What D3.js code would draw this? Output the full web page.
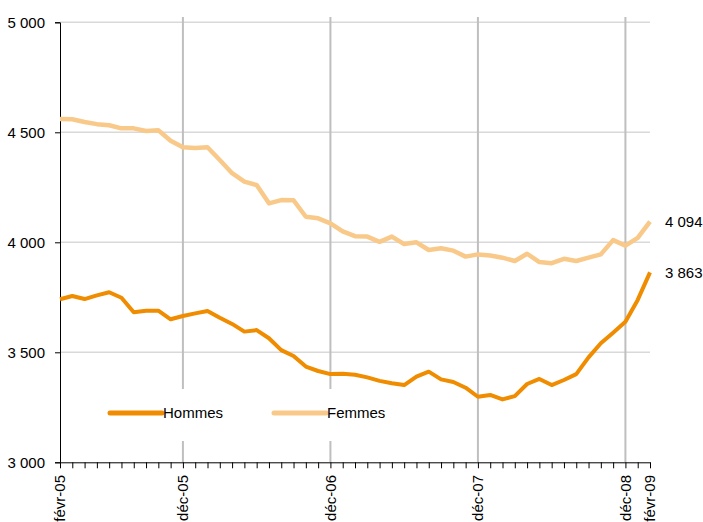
<!DOCTYPE html>
<html>
<head>
<meta charset="utf-8">
<script src="https://cdn.jsdelivr.net/npm/d3@7"></script>
<style>
  body { margin: 0; background: #fff; }
  text { font-family: "Liberation Sans", Arial, sans-serif; font-size: 15px; fill: #000; }
</style>
</head>
<body>
<div id="chart"></div>
<script>
// months from févr-05 to févr-09
var monthNames = ["janv", "févr", "mars", "avr", "mai", "juin", "juil", "août", "sept", "oct", "nov", "déc"];
var months = [];
for (var k = 0; k < 49; k++) {
  var m = (1 + k) % 12, yr = 5 + Math.floor((1 + k) / 12);
  months.push(monthNames[m] + "-" + (yr < 10 ? "0" + yr : yr));
}

var hommes = [3741, 3756, 3742, 3759, 3773, 3748, 3682, 3689, 3689, 3650,
              3665, 3677, 3688, 3657, 3629, 3594, 3601, 3564, 3510, 3483,
              3435, 3415, 3401, 3403, 3398, 3386, 3370, 3359, 3351, 3389,
              3412, 3377, 3365, 3339, 3298, 3306, 3286, 3301, 3356, 3379,
              3351, 3374, 3401, 3477, 3541, 3589, 3639, 3738, 3863];

var femmes = [4560, 4559, 4547, 4537, 4532, 4518, 4518, 4506, 4509, 4462,
              4432, 4429, 4432, 4374, 4314, 4276, 4260, 4177, 4192, 4191,
              4116, 4109, 4086, 4050, 4028, 4026, 4002, 4026, 3992, 4000,
              3965, 3973, 3962, 3935, 3945, 3940, 3930, 3915, 3948, 3910,
              3905, 3925, 3915, 3930, 3945, 4010, 3985, 4020, 4094];

var xTickLabels = ["févr-05", "déc-05", "déc-06", "déc-07", "déc-08", "févr-09"];
var xGridLabels = ["déc-05", "déc-06", "déc-07", "déc-08"];
var yTicks = [3000, 3500, 4000, 4500, 5000];

var series = [
  {name: "Hommes", values: hommes, color: "#f08c00", width: 4},
  {name: "Femmes", values: femmes, color: "#f9c98a", width: 4.5}
];

var W = 703, H = 522;
var svg = d3.select("#chart").append("svg")
  .attr("width", W).attr("height", H);

var x = d3.scalePoint().domain(months).range([60, 650]);
var y = d3.scaleLinear().domain([3000, 5000]).range([462.3, 22.3]);

var fr = d3.formatLocale({decimal: ",", thousands: " ", grouping: [3], currency: ["", " €"]});
var fmt = fr.format(",d");

// horizontal grid
svg.append("g").selectAll("line")
  .data(yTicks.filter(function(d) { return d > 3000; }))
  .enter().append("line")
    .attr("x1", 60).attr("x2", 650)
    .attr("y1", function(d) { return y(d); })
    .attr("y2", function(d) { return y(d); })
    .attr("stroke", "#d9d9d9").attr("stroke-width", 1.5);

// vertical grid
svg.append("g").selectAll("line")
  .data(xGridLabels)
  .enter().append("line")
    .attr("x1", function(d) { return x(d); })
    .attr("x2", function(d) { return x(d); })
    .attr("y1", 17).attr("y2", 462)
    .attr("stroke", "#bfbfbf").attr("stroke-width", 2);

// legend background hides the grid
svg.append("rect")
  .attr("x", 100).attr("y", 389).attr("width", 300).attr("height", 52)
  .attr("fill", "#fff");

// y axis
var yAxis = svg.append("g")
  .attr("transform", "translate(60,0)")
  .call(d3.axisLeft(y).tickValues(yTicks).tickFormat(fmt).tickSize(5).tickPadding(10));
yAxis.select(".domain").attr("stroke", "#000");
yAxis.selectAll(".tick line").attr("stroke", "#000");

// x axis
var xAxis = svg.append("g")
  .attr("transform", "translate(0,462.3)")
  .call(d3.axisBottom(x).tickSize(6).tickSizeOuter(0).tickFormat(""));
xAxis.select(".domain").attr("stroke", "#000");
xAxis.selectAll(".tick line").attr("stroke", "#000");

svg.append("g").selectAll("text")
  .data(xTickLabels)
  .enter().append("text")
    .attr("transform", function(d) { return "translate(" + x(d) + ",475) rotate(-90)"; })
    .attr("text-anchor", "end")
    .attr("dy", "0.35em")
    .text(function(d) { return d; });

// lines
var line = d3.line()
  .x(function(d, i) { return x(months[i]); })
  .y(function(d) { return y(d); });

svg.append("g").selectAll("path")
  .data(series)
  .enter().append("path")
    .attr("d", function(d) { return line(d.values); })
    .attr("fill", "none")
    .attr("stroke", function(d) { return d.color; })
    .attr("stroke-width", function(d) { return d.width; })
    .attr("stroke-linejoin", "round");

// end labels
svg.append("g").selectAll("text")
  .data(series)
  .enter().append("text")
    .attr("x", 665)
    .attr("y", function(d) { return y(d.values[d.values.length - 1]); })
    .attr("dy", "0.35em")
    .text(function(d) { return fmt(d.values[d.values.length - 1]); });

// legend
var legend = svg.append("g").selectAll("g")
  .data(series)
  .enter().append("g")
    .attr("transform", function(d, i) { return "translate(" + (110 + i * 164) + ",413)"; });
legend.append("line")
  .attr("x1", 0).attr("x2", 52)
  .attr("stroke", function(d) { return d.color; })
  .attr("stroke-width", 5)
  .attr("stroke-linecap", "round");
legend.append("text")
  .attr("x", 53)
  .attr("dy", "0.35em")
  .text(function(d) { return d.name; });
</script>
</body>
</html>
